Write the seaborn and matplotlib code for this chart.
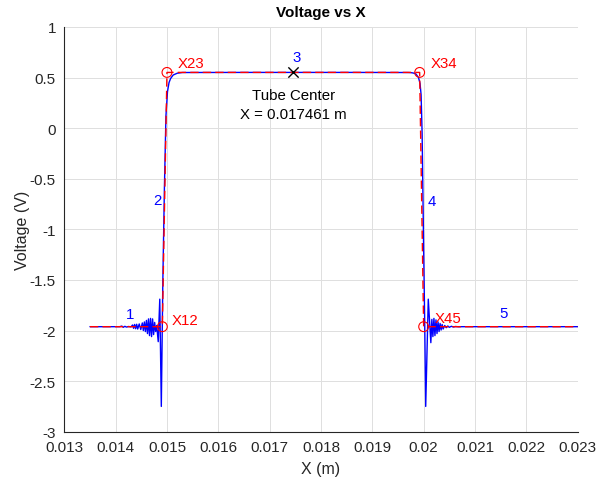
import matplotlib
matplotlib.use("Agg")
import matplotlib.pyplot as plt
import seaborn as sns

# ---- data ----
signal_x = [0.01350, 0.01408, 0.01412, 0.01415, 0.01418, 0.01421, 0.01425, 0.01430,
            0.01433, 0.01435, 0.01437, 0.01439, 0.01441, 0.01443, 0.01446, 0.01449,
            0.01452, 0.01454, 0.01456, 0.01458, 0.01460, 0.01462, 0.01464, 0.01466,
            0.01468, 0.01470, 0.01472, 0.01474, 0.01476, 0.01478, 0.01480, 0.01483,
            0.01486, 0.01489, 0.01492, 0.01495, 0.01498, 0.01501, 0.01504, 0.01507,
            0.01512, 0.01520, 0.01530, 0.01650, 0.01850, 0.01970, 0.01975, 0.01980,
            0.01985, 0.01990, 0.01993, 0.01995, 0.01997, 0.02000, 0.02002, 0.02004,
            0.02009, 0.02014, 0.02016, 0.02018, 0.02020, 0.02022, 0.02024, 0.02026,
            0.02028, 0.02030, 0.02032, 0.02034, 0.02036, 0.02038, 0.02041, 0.02044,
            0.02047, 0.02050, 0.02054, 0.02058, 0.02062, 0.02068, 0.02075, 0.02300]
signal_y = [-1.962, -1.962, -1.956, -1.968, -1.958, -1.966, -1.960, -1.964,
            -1.945, -1.978, -1.940, -1.982, -1.938, -1.985, -1.935, -1.990,
            -1.925, -2.000, -1.915, -2.010, -1.900, -2.030, -1.885, -2.050,
            -1.880, -2.060, -1.885, -2.040, -1.920, -2.010, -1.950, -2.110,
            -1.690, -2.750, -1.500, -0.600, 0.120, 0.360, 0.450, 0.490,
            0.525, 0.543, 0.550, 0.551, 0.551, 0.550, 0.549, 0.545,
            0.535, 0.500, 0.440, 0.330, -0.050, -1.200, -1.900, -2.750,
            -1.690, -2.120, -1.890, -2.060, -1.880, -2.050, -1.895, -2.030,
            -1.915, -2.010, -1.930, -1.995, -1.940, -1.985, -1.950, -1.972,
            -1.955, -1.968, -1.958, -1.965, -1.960, -1.963, -1.962, -1.962]

x_start, x_end = 0.01350, 0.02300
x12, x23, x34, x45 = 0.014910, 0.015000, 0.019922, 0.020000
v_low, v_high = -1.962, 0.551
x_center = 0.017461

fit_x = [x_start, x12, x23, x34, x45, x_end]
fit_y = [v_low, v_low, v_high, v_high, v_low, v_low]

point_names = ["X12", "X23", "X34", "X45"]
point_x = [x12, x23, x34, x45]
point_y = [v_low, v_high, v_high, v_low]

seg_labels = ["1", "2", "3", "4", "5"]
seg_label_x = [0.01428, 0.01481, 0.01753, 0.02016, 0.02156]
seg_label_y = [-1.84, -0.71, 0.70, -0.72, -1.83]

x_ticks = [0.013, 0.014, 0.015, 0.016, 0.017, 0.018, 0.019, 0.020, 0.021, 0.022, 0.023]
x_ticklabels = ["0.013", "0.014", "0.015", "0.016", "0.017", "0.018", "0.019",
                "0.02", "0.021", "0.022", "0.023"]
y_ticks = [-3, -2.5, -2, -1.5, -1, -0.5, 0, 0.5, 1]
y_ticklabels = ["-3", "-2.5", "-2", "-1.5", "-1", "-0.5", "0", "0.5", "1"]

# ---- style ----
sns.set_theme(style="white")
plt.rcParams['font.family'] = ['Liberation Sans', 'DejaVu Sans']
plt.rcParams['axes.unicode_minus'] = False

fig = plt.figure(figsize=(5.98, 4.85), dpi=100)
ax = fig.add_axes([0.1075, 0.1078, 0.8585, 0.8345])

sns.lineplot(x=signal_x, y=signal_y, sort=False, estimator=None,
             color=(0, 0, 1), lw=1.0, ax=ax, zorder=3)
sns.lineplot(x=fit_x, y=fit_y, sort=False, estimator=None,
             color=(1, 0, 0), lw=1.0, ax=ax, zorder=4, linestyle="--")
ax.lines[-1].set_dashes((6, 3))

sns.scatterplot(x=point_x, y=point_y, marker="o", s=50, facecolors="none",
                edgecolor=(1, 0, 0), linewidth=0.8, ax=ax, zorder=5)
sns.scatterplot(x=[x_center], y=[v_high], marker="x", s=55, color="black",
                linewidth=1.0, ax=ax, zorder=6)

label_offsets = {"X12": (0.00018, 0.07), "X23": (0.00020, 0.09),
                 "X34": (0.00022, 0.09), "X45": (0.00022, 0.09)}
for name, px, py in zip(point_names, point_x, point_y):
    dx, dy = label_offsets[name]
    ax.text(px + dx, py + dy, name, color=(1, 0, 0), fontsize=10.8,
            ha="left", va="center", zorder=7)

for lab, lx, ly in zip(seg_labels, seg_label_x, seg_label_y):
    ax.text(lx, ly, lab, color=(0, 0, 1), fontsize=10.8, ha="center",
            va="center", zorder=7)

ax.text(x_center, 0.33, "Tube Center", ha="center", va="center",
        fontsize=10.8, color="black")
ax.text(x_center, 0.14, f"X = {x_center:.6f} m", ha="center", va="center",
        fontsize=10.8, color="black")

ax.set_xlim(0.013, 0.023)
ax.set_ylim(-3, 1)
ax.set_xticks(x_ticks)
ax.set_xticklabels(x_ticklabels)
ax.set_yticks(y_ticks)
ax.set_yticklabels(y_ticklabels)
ax.grid(True, color="#dfdfdf", lw=0.7)
ax.set_axisbelow(True)
for s in ["top", "right"]:
    ax.spines[s].set_visible(False)
for s in ["left", "bottom"]:
    ax.spines[s].set_color("#262626")
    ax.spines[s].set_linewidth(0.8)
ax.tick_params(direction="in", length=4, width=0.8, color="#262626",
               labelcolor="#262626", labelsize=11, pad=6)

ax.set_title("Voltage vs X", fontsize=11, fontweight="bold", color="black", pad=8)
ax.set_xlabel("X (m)", fontsize=11.5, color="#262626", labelpad=5)
ax.set_ylabel("Voltage (V)", fontsize=11.5, color="#262626", labelpad=0)

fig.savefig("out.png", dpi=100)
